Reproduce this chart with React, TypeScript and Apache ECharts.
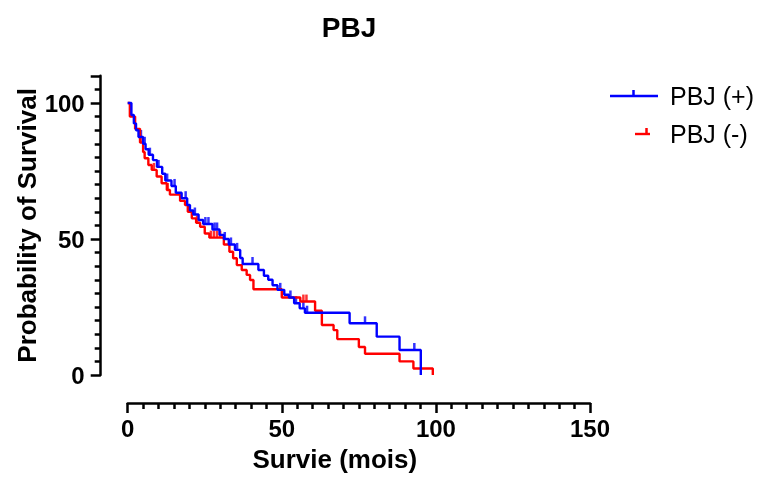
import React, { useEffect, useRef } from "react";
import * as echarts from "echarts";

// Kaplan-Meier steps: time (months) and survival (%) from that time onward
const blueTimes = [0, 1.2, 2.0, 2.7, 3.5, 5.0, 5.8, 6.8, 8.2, 9.5, 11.2, 12.2, 14.2, 15.6, 17.5, 19.3, 20.2, 21.3, 23.0, 24.5, 27.5, 29.8, 31.2, 32.8, 34.8, 36.5, 37.3, 42.4, 44.2, 45.6, 47.0, 48.6, 50.8, 52.3, 54.0, 55.8, 57.5, 72.0, 80.8, 88.2, 95.1];
const blueSurv = [100, 95.6, 92.5, 90, 87.5, 85, 83, 81, 79, 76.5, 74, 71.5, 69.5, 67, 65, 62.5, 60.5, 59, 57, 55.5, 53.5, 51.5, 50, 48, 46, 43, 40.8, 38.6, 36.5, 35, 33, 31.3, 29.5, 28.5, 26.4, 24.5, 22.9, 19, 14.1, 9.2, 0];
const redTimes = [0, 0.7, 2.4, 4.0, 5.0, 5.5, 6.7, 7.8, 9.4, 11.0, 12.7, 13.7, 17.0, 18.6, 19.5, 20.8, 22.2, 23.5, 25.0, 26.5, 31.2, 33.0, 34.2, 35.4, 37.0, 38.6, 39.7, 40.8, 50.0, 56.0, 60.8, 63.0, 66.8, 68.0, 75.0, 77.0, 88.2, 92.7, 99.0];
const redSurv = [100, 95, 90.5, 85.5, 82, 79.7, 77.2, 75.4, 73, 70.5, 68, 66.3, 64, 62.5, 60, 57.6, 56, 54.5, 52, 50.5, 48, 45.3, 42.9, 40.4, 38.6, 36.8, 34.9, 31.5, 28.5, 27, 23.6, 18.4, 16.5, 13.2, 10.3, 7.8, 5, 2.4, 0];
// censored observations (months)
const blueCensor = [3.8, 4.3, 5.5, 7.2, 10, 12.8, 15.2, 18.8, 21.8, 25.2, 26.2, 28.2, 29, 31.5, 33.5, 35.5, 40.5, 49.5, 52.8, 54.6, 57, 58.2, 77, 93];
const redCensor = [4.2, 8.5, 13, 22.5, 27, 28, 29, 30, 57, 58];

const xTicks = [0, 50, 100, 150];
const yTicks = [0, 50, 100];

const BLUE = "#0000ff";
const RED = "#ff0000";
const FONT = "Liberation Sans, Arial, Helvetica, sans-serif";

function survAt(ts: number[], ss: number[], t: number) {
  let s = ss[0];
  for (let i = 0; i < ts.length; i++) if (ts[i] <= t) s = ss[i];
  return s;
}

export default function App() {
  const ref = useRef<HTMLDivElement>(null);
  useEffect(() => {
    const chart = echarts.init(ref.current!, null, { renderer: "svg" });
    const pairs = (ts: number[], ss: number[]) => ts.map((t, i) => [t, ss[i]]);
    const cens = (c: number[], ts: number[], ss: number[]) => c.map((t) => [t, survAt(ts, ss, t)]);
    const axisCommon = {
      axisLine: { show: true, onZero: false, lineStyle: { color: "#000", width: 2.5 } },
      axisTick: { show: true, length: 10, lineStyle: { color: "#000", width: 2.5 } },
      minorTick: { show: true, splitNumber: 10, length: 6, lineStyle: { color: "#000", width: 2.5 } },
      splitLine: { show: false },
      minorSplitLine: { show: false },
      nameLocation: "middle" as const,
      nameMoveOverlap: false,
    };
    const nameFont = { fontFamily: FONT, fontWeight: "bold" as const, fontSize: 26, color: "#000" };
    chart.setOption({
      animation: false,
      title: {
        text: "PBJ",
        left: 344,
        top: 8,
        textAlign: "center",
        textStyle: { fontFamily: FONT, fontWeight: "bold", fontSize: 28, color: "#000" },
      },
      grid: { left: 127.7, right: 174, top: 75.8, bottom: 110 },
      xAxis: {
        type: "value",
        min: xTicks[0],
        max: xTicks[xTicks.length - 1],
        interval: 50,
        offset: 28,
        name: "Survie (mois)",
        nameGap: 43,
        nameTextStyle: { ...nameFont, padding: [0, 48, 0, 0] },
        axisLabel: { fontFamily: FONT, fontWeight: "bold", fontSize: 24, color: "#000", margin: 13 },
        ...axisCommon,
      },
      yAxis: {
        type: "value",
        min: 0,
        max: 110,
        interval: 50,
        offset: 27,
        name: "Probability of Survival",
        nameGap: 61,
        nameTextStyle: nameFont,
        axisLabel: {
          fontFamily: FONT,
          fontWeight: "bold",
          fontSize: 24,
          color: "#000",
          margin: 16,
          formatter: (v: number) => (yTicks.includes(v) ? String(v) : ""),
        },
        ...axisCommon,
      },
      series: [
        {
          type: "line",
          step: "end",
          data: pairs(redTimes, redSurv),
          showSymbol: false,
          lineStyle: { color: RED, width: 2.4 },
          itemStyle: { color: RED },
        },
        {
          type: "line",
          step: "end",
          data: pairs(blueTimes, blueSurv),
          showSymbol: false,
          lineStyle: { color: BLUE, width: 2.4 },
          itemStyle: { color: BLUE },
        },
        {
          type: "scatter",
          data: cens(redCensor, redTimes, redSurv),
          symbol: "rect",
          symbolSize: [2.5, 7],
          symbolOffset: [0, -3.5],
          itemStyle: { color: RED },
        },
        {
          type: "scatter",
          data: cens(blueCensor, blueTimes, blueSurv),
          symbol: "rect",
          symbolSize: [2.5, 7],
          symbolOffset: [0, -3.5],
          itemStyle: { color: BLUE },
        },
      ],
      graphic: [
        { type: "line", shape: { x1: 610, y1: 96, x2: 658, y2: 96 }, style: { stroke: BLUE, lineWidth: 2.4 } },
        { type: "line", shape: { x1: 633.5, y1: 90, x2: 633.5, y2: 96 }, style: { stroke: BLUE, lineWidth: 2.5 } },
        { type: "text", x: 670, y: 96, style: { text: "PBJ (+)", fontFamily: FONT, fontSize: 25, fill: "#000", verticalAlign: "middle" } },
        { type: "line", shape: { x1: 635, y1: 134, x2: 650, y2: 134 }, style: { stroke: RED, lineWidth: 2.4 } },
        { type: "line", shape: { x1: 646.5, y1: 128, x2: 646.5, y2: 134 }, style: { stroke: RED, lineWidth: 2.5 } },
        { type: "text", x: 670, y: 134, style: { text: "PBJ (-)", fontFamily: FONT, fontSize: 25, fill: "#000", verticalAlign: "middle" } },
      ],
    });
    return () => chart.dispose();
  }, []);
  return <div ref={ref} style={{ position: "fixed", left: 0, top: 0, width: 764, height: 485 }} />;
}
